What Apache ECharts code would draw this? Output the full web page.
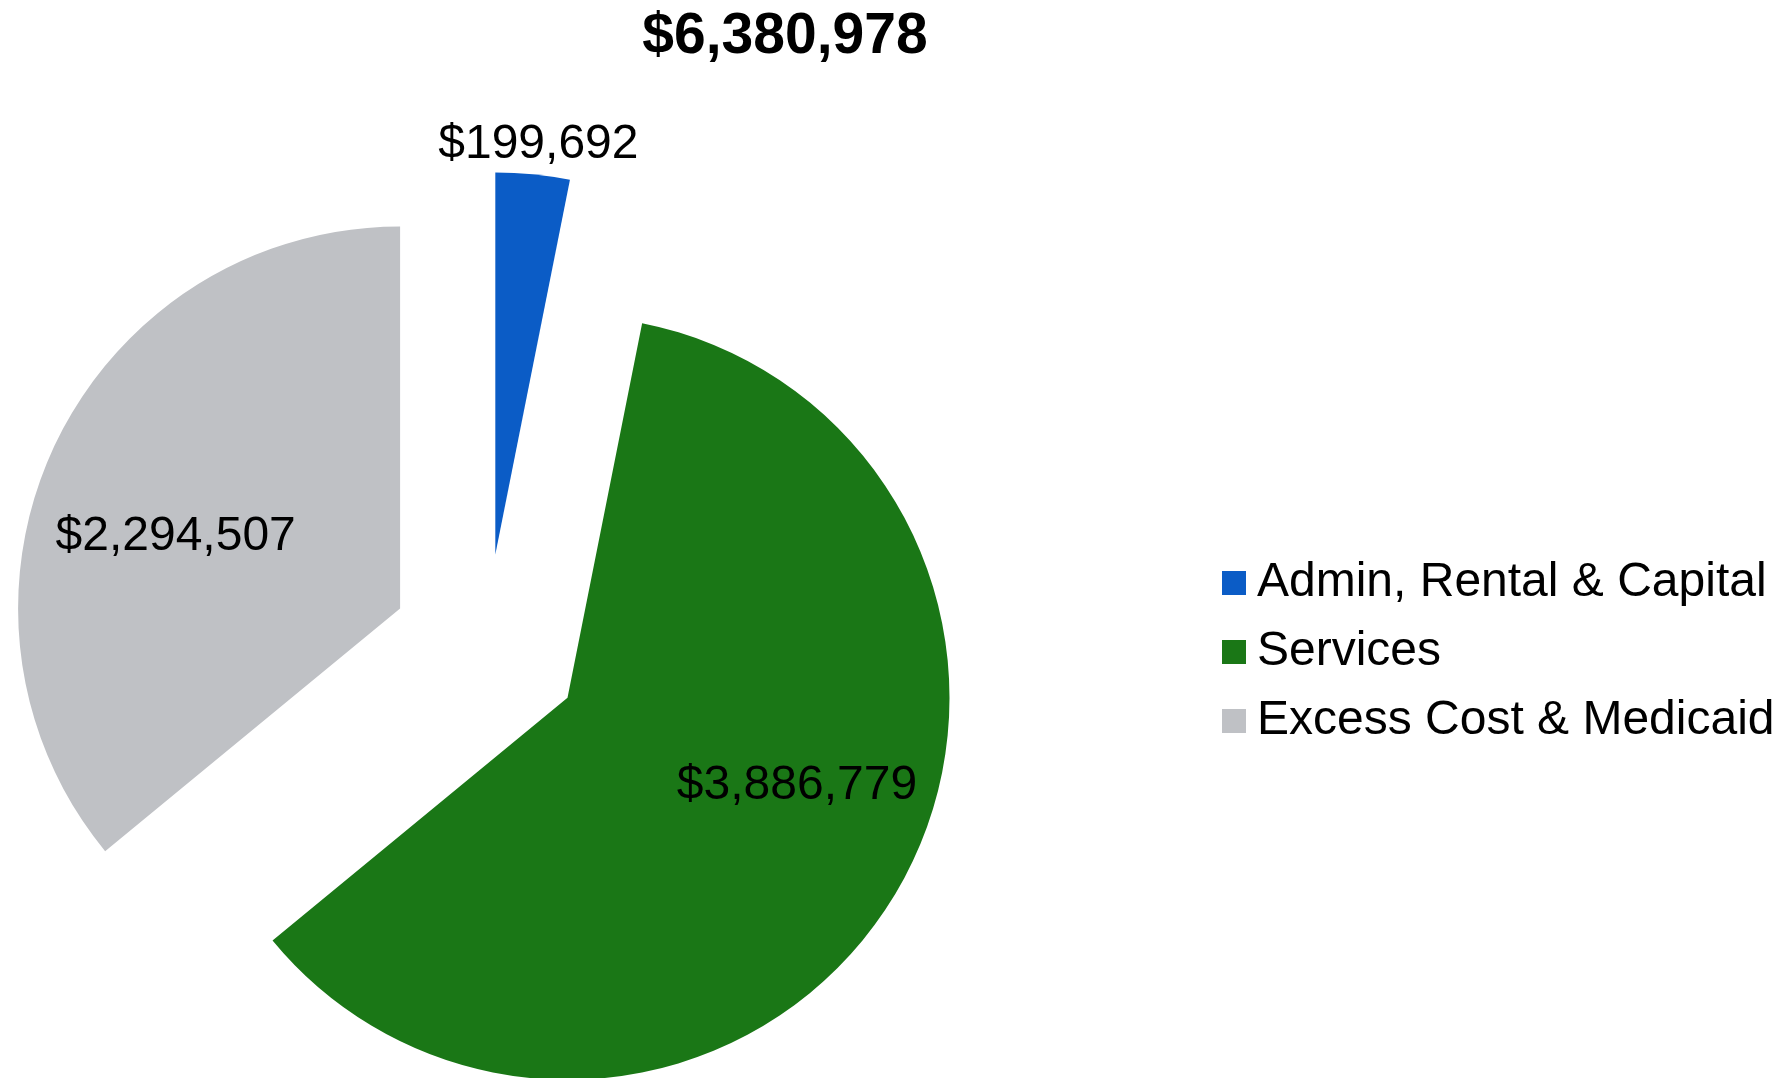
<!DOCTYPE html>
<html>
<head>
<meta charset="utf-8">
<script src="https://cdn.jsdelivr.net/npm/echarts@6/dist/echarts.min.js"></script>
<style>
html,body{margin:0;padding:0;background:#fff;}
#main{width:1788px;height:1078px;}
</style>
</head>
<body>
<div id="main"></div>
<script>
const categories = ['Admin, Rental & Capital', 'Services', 'Excess Cost & Medicaid'];
const values = [199692, 3886779, 2294507];
const totalLabel = '$6,380,978';
const colors = ['#0B5CC6', '#1A7716', '#BFC1C5'];

const fmt = v => '$' + v.toLocaleString('en-US');
const labelShift = [[24, -217], [63, -12], [-49, 11]];
const font = 'Liberation Sans, Arial, sans-serif';

const chart = echarts.init(document.getElementById('main'), null, {renderer: 'canvas'});
chart.setOption({
  animation: false,
  backgroundColor: '#fff',
  title: {
    text: totalLabel,
    left: 780,
    textAlign: 'center',
    top: 4,
    textStyle: {fontFamily: font, fontSize: 57, fontWeight: 'bold', color: '#000'}
  },
  legend: {
    orient: 'vertical',
    left: 1217,
    top: 554,
    itemWidth: 24,
    itemHeight: 24,
    itemGap: 21,
    icon: 'rect',
    selectedMode: false,
    data: categories,
    textStyle: {fontFamily: font, fontSize: 48, lineHeight: 46, color: '#000', padding: [0, 0, 0, 6]}
  },
  series: [{
    type: 'pie',
    center: [486, 649],
    radius: 382,
    startAngle: 90,
    clockwise: true,
    selectedMode: 'multiple',
    selectedOffset: 95,
    avoidLabelOverlap: false,
    emphasis: {disabled: true},
    label: {
      show: true,
      position: 'inside',
      fontFamily: font,
      fontSize: 48,
      color: '#000',
      formatter: p => fmt(p.value)
    },
    labelLine: {show: false},
    labelLayout: p => ({dx: labelShift[p.dataIndex][0], dy: labelShift[p.dataIndex][1]}),
    data: categories.map((c, i) => ({
      name: c,
      value: values[i],
      selected: true,
      itemStyle: {color: colors[i]}
    }))
  }]
});
</script>
</body>
</html>
